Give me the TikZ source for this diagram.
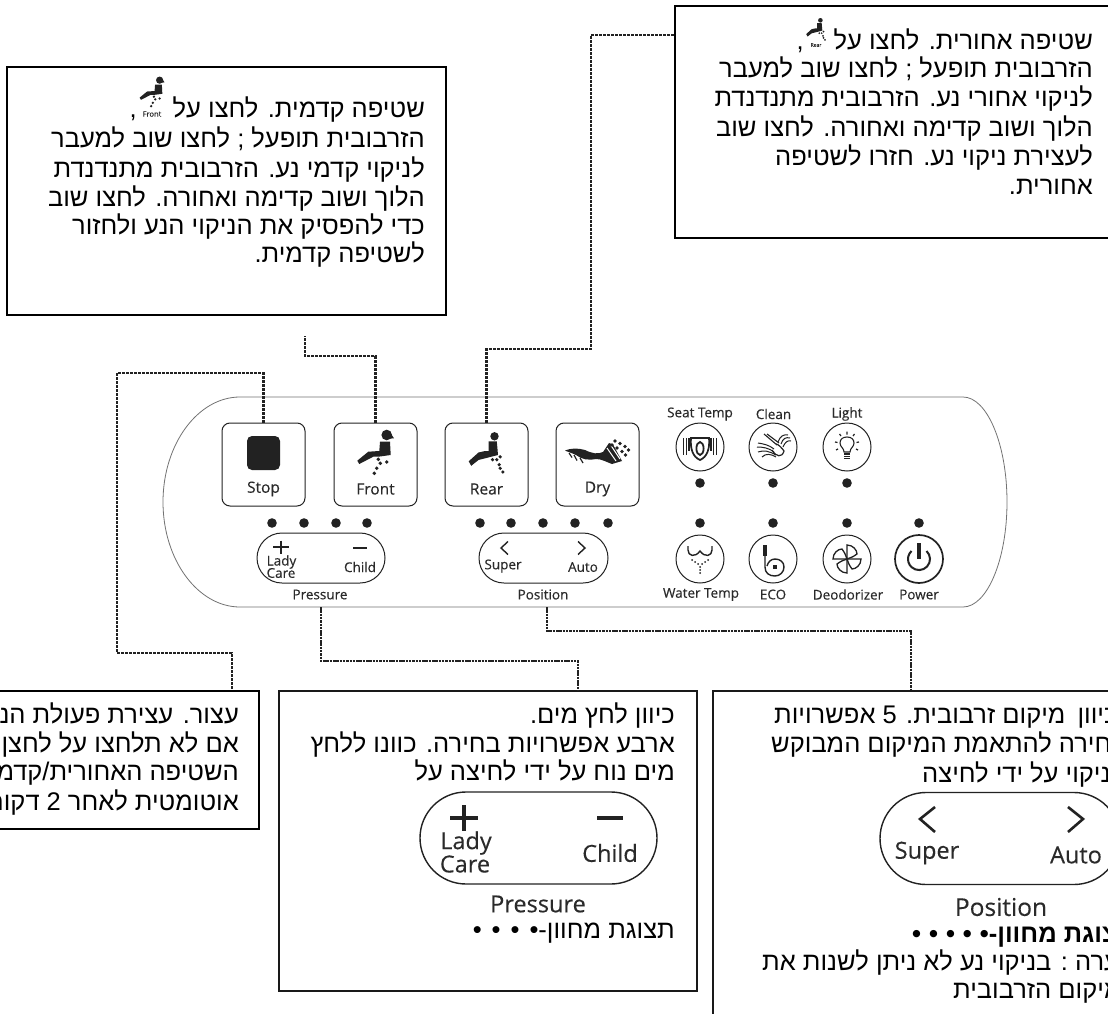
\documentclass[tikz,border=0pt]{standalone}
\usepackage{fontspec}
\newfontfamily\hebfont[Script=Hebrew]{Liberation Sans}
\newfontfamily\panelfont[FakeBold=0.25]{Open Sans}
\TeXXeTstate=1
\newcommand{\hl}[1]{\beginR #1\endR}
\definecolor{ink}{HTML}{222222}
\definecolor{labelink}{HTML}{2A2A2A}
\tikzset{
  heb/.style={font=\hebfont\fontsize{25.5}{28}\selectfont,anchor=base east,inner sep=0pt,text=black},
  hebl/.style={heb,anchor=base west},
  lab/.style={font=\panelfont\fontsize{13.5}{13.5}\selectfont,inner sep=0pt,text=labelink},
  btnlab/.style={font=\panelfont\fontsize{15.5}{15.5}\selectfont,inner sep=0pt,text=labelink},
  biglab/.style={font=\panelfont\fontsize{23.5}{24}\selectfont,inner sep=0pt,text=labelink},
  btn/.style={draw=ink,line width=1pt,rounded corners=8pt,minimum width=83pt,minimum height=83pt,inner sep=0pt},
  pill/.style={draw=ink,line width=1pt,rounded corners=25pt,minimum height=50pt,inner sep=0pt},
  bigpill/.style={draw=ink,line width=1.4pt,rounded corners=46pt,minimum height=92pt,inner sep=0pt},
  roundkey/.style={draw=ink,line width=1pt,circle,minimum size=48pt,inner sep=0pt},
  callout/.style={draw=black,line width=2pt,inner sep=0pt,fill=white},
  thinbox/.style={draw=black!90,line width=1.5pt,inner sep=0pt,fill=white},
  link/.style={draw=ink,line width=2.6pt,dash pattern=on 3pt off 1pt},
  thinlink/.style={draw=ink,line width=1.8pt,dash pattern=on 2.5pt off 0.8pt},
  frontfig/.pic={
    \fill[ink] (11.2,12) circle[radius=5.3];
    \fill[ink] (14,8.5) -- (18.5,15.3) -- (10,16) -- cycle;
    \fill[ink] (4.5,18.7) -- (14.5,18.7) -- (15.2,32) -- (3,33.7) -- (-2.2,33.7) -- (-7.2,36.3) -- (-16.2,41) -- (-18.2,37.7) -- (-7.2,28.7) -- (3.8,28) -- cycle;
    \foreach \p in {(2.8,36.3),(4.8,40.3),(11.2,39),(1.2,45.3),(-1.2,50.3)} \fill[ink] \p circle[radius=1.9];
  },
  rearfig/.pic={
    \fill[ink] (8,13.3) circle[radius=4.2];
    \fill[ink] (2,18.3) -- (10.3,18.3) -- (11.5,32) -- (-8,37) -- (-15.3,42.8) -- (-17.8,38.3) -- (-8,29.5) -- (-1.3,28) -- (2,28) -- cycle;
    \foreach \p in {(6,36.7),(10.3,36.7),(13.7,33.8),(12.7,41.7),(13.7,45.3),(16.3,49)} \fill[ink] \p circle[radius=1.8];
  },
}
\begin{document}
\begin{tikzpicture}[x=1pt,y=-1pt]
\useasboundingbox (0,0) rectangle (1108,1014);
\clip (0,0) rectangle (1108,1014);
\fill[white] (0,0) rectangle (1108,1014);

% control panel outline
\draw[draw=black!55,line width=0.8pt] (240,397) -- (963,397) .. controls (987,397) and (1007,444) .. (1007,502) .. controls (1007,560) and (987,607) .. (963,607) -- (240,607) .. controls (198,607) and (163,560) .. (163,502) .. controls (163,444) and (198,397) .. (240,397) -- cycle;

% buttons
\node[btn] (stopbtn) at (263.5,464.5) {};
\node[btn] (frontbtn) at (375.5,464.5) {};
\node[btn] (rearbtn) at (486.5,464.5) {};
\node[btn] (drybtn) at (597.5,464.5) {};
\fill[ink,rounded corners=5pt] (247,436) rectangle (280,470);
\pic at (375.5,423) {frontfig};
\pic at (486.5,423) {rearfig};
\node[btnlab] (stoplab) at (263.5,489) {Stop};
\node[btnlab] (frontlab) at (375.5,489) {Front};
\node[btnlab] (rearlab) at (486.5,489) {Rear};
\node[btnlab] (drylab) at (597.5,489) {Dry};
% dry icon
\begin{scope}[shift={(560,425)}]
\fill[ink] (5,25.5) .. controls (11,23) and (18,23) .. (25,25) .. controls (32,28.5) and (38,29.5) .. (43,27) -- (49,18) -- (53,19.5) -- (62,36) -- (52,39) .. controls (46,37) and (42,34) .. (36,34) .. controls (28,35.5) and (22,34.5) .. (16,30) .. controls (12,28) and (8,27) .. (5,25.5) -- cycle;
\draw[ink,line width=1.2pt] (9,28) -- (12,32.5) (14,30) -- (17,35.5) (20,33) -- (23,38);
\draw[white,line width=1pt] (47,23) -- (56,36) (51,20.5) -- (60,34);
\foreach \p in {(55,16),(60,18.5),(65,21.5),(68.5,25),(52,20),(57,23),(62,26.5),(65.5,30)} \fill[ink] \p circle[radius=1.8];
\end{scope}

% indicator dots
\foreach \x in {272,304,336,367,480,511,543,575,608,700,773,847,919} \fill[ink] (\x,523) circle[radius=4.8];
\foreach \x in {700,773,847} \fill[ink] (\x,483) circle[radius=4.8];

% pressure pill
\node[pill,minimum width=128pt] (presspill) at (321,558) {};
\draw[ink,line width=1.4pt] (273,547) -- (289,547) (281,540.5) -- (281,553.5);
\draw[ink,line width=1.5pt] (353,548) -- (367,548);
\node[lab] (ladylab) at (281.5,562) {Lady};
\node[lab] (carelab) at (281,573) {Care};
\node[lab] (childlab) at (360,567) {Child};
\node[lab] (presslab) at (320,594.5) {Pressure};

% position pill
\node[pill,minimum width=129pt] (pospill) at (543.5,558) {};
\draw[ink,line width=1.4pt] (508,541.5) -- (501,548) -- (508,554.5) (578,541.5) -- (585,548) -- (578,554.5);
\node[lab] (superlab) at (503,566) {Super};
\node[lab] (autolab) at (583,567) {Auto};
\node[lab] (poslab) at (543,594.5) {Position};

% upper round keys
\node[roundkey] (seatkey) at (700,447) {};
\node[roundkey] (cleankey) at (773,447) {};
\node[roundkey] (lightkey) at (847,447) {};
\node[lab] (seatlab) at (700,414) {Seat Temp};
\node[lab] (cleanlab) at (773.5,414) {Clean};
\node[lab] (lightlab) at (847,414) {Light};
% seat temp icon
\begin{scope}[shift={(700,447)}]
\draw[ink,line width=1.7pt] (-9,-9) -- (9,-9) .. controls (10,2) and (7,10) .. (0,13) .. controls (-7,10) and (-10,2) .. (-9,-9) -- cycle;
\draw[ink,line width=1.8pt] (0,1.5) ellipse[x radius=3.6,y radius=6.5];
\draw[ink,line width=1.6pt] (-16.5,-9) -- (-16.5,8) (-13.5,-9) -- (-13.5,8) (-10.8,-9) -- (-10.8,4) (16.5,-9) -- (16.5,8) (13.5,-9) -- (13.5,8) (10.8,-9) -- (10.8,4);
\end{scope}
% clean icon
\begin{scope}[shift={(773,447)}]
\draw[ink,line width=1.1pt] (-9,-13) -- (4,-2) (-6,-13) -- (6,-4);
\draw[ink,line width=1.2pt] (-1,3) .. controls (3,10) and (9,11) .. (11,4) .. controls (9,1) and (5,-3) .. (3,-3);
\draw[ink,line width=1pt] (5,-5) .. controls (7,-11) and (11,-13) .. (15,-12) (8,-3) .. controls (10,-9) and (13,-10) .. (17,-9) (10,0) .. controls (12,-5) and (15,-7) .. (18,-6);
\draw[ink,line width=1pt] (-15,-4) .. controls (-9,-3) and (-4,-2) .. (1,2) (-16,0) .. controls (-10,0) and (-4,1) .. (1,5) (-15,5) .. controls (-9,3) and (-4,4) .. (3,8) (-11,10) .. controls (-7,6) and (-2,7) .. (3,10);
\end{scope}
% light icon
\begin{scope}[shift={(847,447)}]
\draw[ink,line width=1.1pt] (-3,5) .. controls (-3,1) and (-7,0) .. (-7,-4) .. controls (-7,-8) and (-4,-10) .. (0,-10) .. controls (4,-10) and (7,-8) .. (7,-4) .. controls (7,0) and (3,1) .. (3,5) -- cycle;
\draw[ink,line width=1.3pt] (-3,7) -- (3,7) (-3,9.2) -- (3,9.2) (-3,11.4) -- (3,11.4);
\draw[ink,line width=1.2pt] (0,-15.5) -- (0,-12.5) (-7.5,-13) -- (-6,-11) (7.5,-13) -- (6,-11) (-12,-5) -- (-9.5,-4.5) (12,-5) -- (9.5,-4.5) (-11,3) -- (-9,2) (11,3) -- (9,2);
\end{scope}

% lower round keys
\node[roundkey] (waterkey) at (700,559) {};
\node[roundkey] (ecokey) at (773,559) {};
\node[roundkey] (deokey) at (847,559) {};
\node[roundkey,line width=1.7pt] (powerkey) at (919,559) {};
\node[lab] (waterlab) at (701,594.5) {Water Temp};
\node[lab] (ecolab) at (773,594.5) {ECO};
\node[lab] (deolab) at (848,594.5) {Deodorizer};
\node[lab] (powerlab) at (919,594.5) {Power};
% water temp icon
\begin{scope}[shift={(700,559)}]
\draw[ink,line width=1.4pt] (-12,-13) -- (-12,-9) .. controls (-12,-3) and (-5,-1) .. (0,-8) .. controls (5,-1) and (12,-3) .. (12,-9) -- (12,-13);
\foreach \p in {(-8,1),(-5,3),(-2,5),(2,5),(5,3),(8,1),(0,8),(0,11),(0,14)} \fill[ink] \p circle[radius=1];
\end{scope}
% eco icon
\begin{scope}[shift={(773,559)}]
\fill[ink] (-10,-10) rectangle (-6,-3);
\draw[ink,line width=1.1pt] (-9,-14) -- (-9,-10) (-7,-14) -- (-7,-10);
\draw[ink,line width=1.4pt] (-8,-3) -- (-8,8) .. controls (-8,14) and (-4,17) .. (2,17) .. controls (7,17) and (11,13) .. (11,8) .. controls (11,3) and (7,0) .. (2,0) .. controls (-2,0) and (-5,3) .. (-6,7);
\fill[ink] (0,6) rectangle (4,10);
\end{scope}
% deodorizer icon
\begin{scope}[shift={(847,559)}]
\foreach \a in {0,90,180,270}
  \draw[ink,line width=1.3pt,rotate=\a] (0,0) -- (0,-14) .. controls (6,-14) and (10,-9) .. (10,-5) .. controls (6,-2) and (3,-1) .. (0,0);
\end{scope}
% power icon
\begin{scope}[shift={(919,559)}]
\draw[ink,line width=2pt] (7.5,-8) arc[start angle=-47,end angle=227,radius=11];
\draw[ink,line width=4.5pt] (0,-16) -- (0,0);
\end{scope}

% text boxes
\node[callout,minimum width=439pt,minimum height=248pt] (frontbox) at (226.5,191) {};
\node[callout,minimum width=475pt,minimum height=232pt] (rearbox) at (912.5,122) {};
\node[callout,minimum width=339pt,minimum height=138pt] (stopbox) at (89,760) {};
\node[thinbox,minimum width=418pt,minimum height=300pt] (pressbox) at (488,841) {};
\node[thinbox,minimum width=447pt,minimum height=419pt] (posbox) at (936.5,900.5) {};

% connectors
\coordinate (s1) at (263.5,373); \coordinate (s2) at (117,373);
\coordinate (s3) at (117,653); \coordinate (s4) at (232,653);
\draw[link] (stopbtn.north) -- (s1) -- (s2) -- (s3) -- (s4) -- (s4 |- stopbox.north);
\coordinate (f1) at (375.5,356); \coordinate (f2) at (305,356); \coordinate (f3) at (305,336);
\draw[link] (frontbtn.north) -- (f1) -- (f2) -- (f3);
\coordinate (r1) at (486.5,349); \coordinate (r2) at (591,349); \coordinate (r3) at (591,35);
\draw[link] (rearbtn.north) -- (r1) -- (r2) -- (r3) -- (r3 -| rearbox.west);
\coordinate (p0) at (321,607); \coordinate (p1) at (321,661); \coordinate (p2) at (578,661);
\draw[thinlink] (p0) -- (p1) -- (p2) -- (p2 |- pressbox.north);
\coordinate (q0) at (547,607); \coordinate (q1) at (547,631); \coordinate (q2) at (911,631);
\draw[thinlink] (q0) -- (q1) -- (q2) -- (q2 |- posbox.north);

% front text
\node[heb] (ft1) at (425,118) {\hl{שטיפה קדמית. לחצו על\hspace{36pt},}};
\node[heb] (ft2) at (425,148) {\hl{הזרבובית תופעל ; לחצו שוב למעבר}};
\node[heb] (ft3) at (425,177) {\hl{לניקוי קדמי נע. הזרבובית מתנדנדת}};
\node[heb] (ft4) at (425,206) {\hl{הלוך ושוב קדימה ואחורה. לחצו שוב}};
\node[heb] (ft5) at (425,234) {\hl{כדי להפסיק את הניקוי הנע ולחזור}};
\node[heb] (ft6) at (425,262) {\hl{לשטיפה קדמית.}};
\pic[scale=0.68] at (152,72) {frontfig};
\node[font=\panelfont\fontsize{7.5}{8}\selectfont,inner sep=0pt,text=labelink] (frontmini) at (152,114) {Front};

% rear text
\node[heb] (rt1) at (1093,50) {\hl{שטיפה אחורית. לחצו על\hspace{30pt},}};
\node[heb] (rt2) at (1093,78) {\hl{הזרבובית תופעל ; לחצו שוב למעבר}};
\node[heb] (rt3) at (1093,107) {\hl{לניקוי אחורי נע. הזרבובית מתנדנדת}};
\node[heb] (rt4) at (1093,136) {\hl{הלוך ושוב קדימה ואחורה. לחצו שוב}};
\node[heb] (rt5) at (1093,165) {\hl{לעצירת ניקוי נע. חזרו לשטיפה}};
\node[heb] (rt6) at (1093,194) {\hl{אחורית.}};
\pic[scale=0.55] at (816,13) {rearfig};
\node[font=\panelfont\fontsize{5}{6}\selectfont,inner sep=0pt,text=labelink] (rearmini) at (816,45) {Rear};

% stop text
\node[heb] (st1) at (239,723) {\hl{עצור. עצירת פעולת הניקוי.}};
\node[heb] (st2) at (239,752) {\hl{אם לא תלחצו על לחצן}};
\node[heb] (st3) at (239,780) {\hl{השטיפה האחורית/קדמית}};
\node[heb] (st4) at (239,810) {\hl{אוטומטית לאחר 2 דקות}};

% pressure text
\node[heb] (pt1) at (675,723) {\hl{כיוון לחץ מים.}};
\node[heb] (pt2) at (675,752) {\hl{ארבע אפשרויות בחירה. כוונו ללחץ}};
\node[heb] (pt3) at (675,780) {\hl{מים נוח על ידי לחיצה על}};
\node[heb] (pt4) at (675,938) {\hl{תצוגת מחוון-•\hspace{10pt}•\hspace{10pt}•\hspace{10pt}•}};
\node[bigpill,minimum width=237pt] (bigpress) at (538.5,838) {};
\draw[ink,line width=3.2pt] (450,818) -- (478,818) (464,805) -- (464,831) (597,818) -- (623,818);
\node[biglab] (bladylab) at (466,843) {Lady};
\node[biglab] (bcarelab) at (465,864) {Care};
\node[biglab] (bchildlab) at (610,853) {Child};
\node[biglab] (bpresslab) at (538,904) {Pressure};

% position text
\node[hebl] (qt1) at (774,723) {\hl{כיוון\hspace{5pt} מיקום זרבובית. 5 אפשרויות}};
\node[hebl] (qt2) at (771,752) {\hl{בחירה להתאמת המיקום המבוקש}};
\node[hebl] (qt3) at (922,782) {\hl{ניקוי על ידי לחיצה}};
\node[hebl] (qt4) at (912,942) {\bfseries\hl{תצוגת מחוון-•\hspace{8pt}•\hspace{8pt}•\hspace{8pt}•\hspace{8pt}•}};
\node[hebl] (qt5) at (762,970) {\hl{הערה : בניקוי נע לא ניתן לשנות את}};
\node[hebl] (qt6) at (953,998) {\hl{מיקום הזרבובית}};
\node[bigpill,minimum width=240pt] (bigpos) at (1000,838.5) {};
\draw[ink,line width=2.6pt] (935,807) -- (920,819) -- (935,832) (1068,807) -- (1083,819) -- (1068,832);
\node[biglab] (bsuperlab) at (927,853) {Super};
\node[biglab] (bautolab) at (1076,855) {Auto};
\node[biglab,font=\panelfont\fontsize{24.5}{25}\selectfont] (bposlab) at (1001,907) {Position};
\end{tikzpicture}
\end{document}
